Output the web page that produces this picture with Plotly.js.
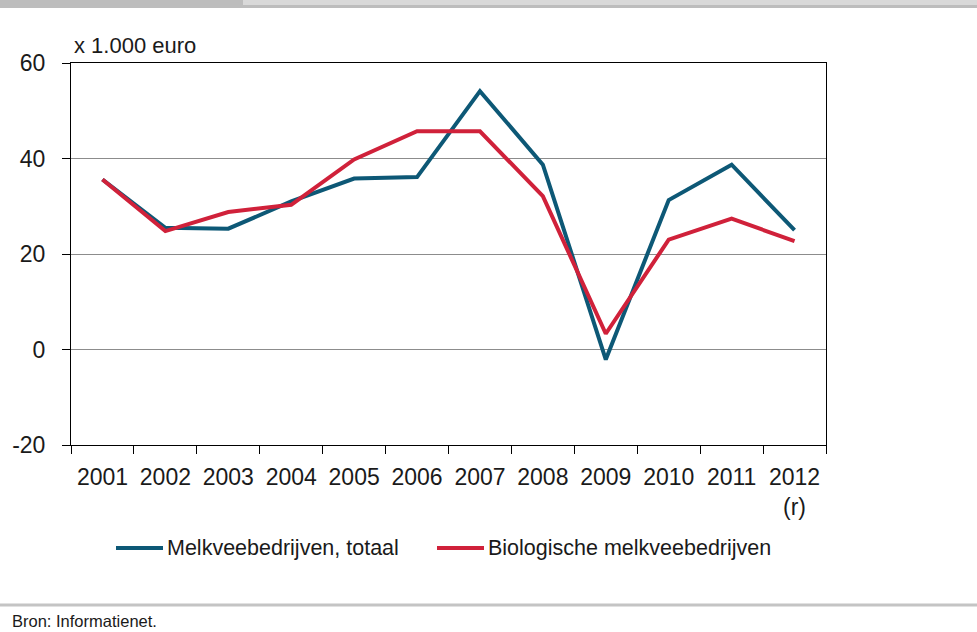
<!DOCTYPE html>
<html>
<head>
<meta charset="utf-8">
<script src="https://cdn.plot.ly/plotly-3.0.1.min.js"></script>
<style>
html,body{margin:0;padding:0;background:#fff;}
#chart{width:977px;height:632px;}
</style>
</head>
<body>
<div id="chart"></div>
<script>
// ---- data ----
var years = ["2001","2002","2003","2004","2005","2006","2007","2008","2009","2010","2011","2012"];
var tickLabels = ["2001","2002","2003","2004","2005","2006","2007","2008","2009","2010","2011","2012<br>(r)"];
var melkveeTotaal = [35.6, 25.5, 25.3, 31.0, 35.8, 36.1, 54.1, 38.7, -2.1, 31.3, 38.7, 25.0];
var biologisch   = [35.6, 24.8, 28.8, 30.3, 39.8, 45.7, 45.7, 32.1, 3.3, 23.0, 27.4, 22.7];
var yTickVals = [-20, 0, 20, 40, 60];
var yTickText = ["-20", "0", "20", "40", "60"];
var seriesNames = ["Melkveebedrijven, totaal", "Biologische melkveebedrijven"];
var yTitle = "x 1.000 euro";
var source = "Bron: Informatienet.";

// ---- layout geometry (pixels) ----
var W = 977, H = 632;
var L = 71, R = 826, T = 63, B = 445;
function px(x){ return (x - L) / (R - L); }
function py(y){ return (B - y) / (B - T); }

var blue = "#0d5876", red = "#d0213a";
var narrow = "Liberation Sans Narrow, Arial Narrow, Liberation Sans, Arial, sans-serif";
var sans = "Liberation Sans, Arial, sans-serif";

var traces = [
  {x: years, y: melkveeTotaal, type: "scatter", mode: "lines", name: seriesNames[0],
   line: {color: blue, width: 4}, hoverinfo: "skip"},
  {x: years, y: biologisch, type: "scatter", mode: "lines", name: seriesNames[1],
   line: {color: red, width: 4}, hoverinfo: "skip"}
];

var shapes = [
  // top decorative bars
  {type: "rect", xref: "paper", yref: "paper", x0: px(0), x1: px(W), y0: py(0), y1: py(8),
   fillcolor: "#bdbdbd", line: {width: 0}, layer: "above"},
  {type: "rect", xref: "paper", yref: "paper", x0: px(243), x1: px(W), y0: py(0), y1: py(5),
   fillcolor: "#d9d9d9", line: {width: 0}, layer: "above"},
  // bottom separator
  {type: "line", xref: "paper", yref: "paper", x0: px(0), x1: px(W), y0: py(605), y1: py(605),
   line: {color: "#c4c4c4", width: 3}},
  // legend samples
  {type: "line", xref: "paper", yref: "paper", x0: px(116), x1: px(163), y0: py(548), y1: py(548),
   line: {color: blue, width: 4}},
  {type: "line", xref: "paper", yref: "paper", x0: px(437), x1: px(484), y0: py(548), y1: py(548),
   line: {color: red, width: 4}}
];

var annotations = [
  {text: yTitle, xref: "paper", yref: "paper", x: px(72), y: py(60), xanchor: "left", yanchor: "bottom",
   showarrow: false, font: {family: sans, size: 22, color: "#1a1a1a"}},
  {text: seriesNames[0], xref: "paper", yref: "paper", x: px(165), y: py(548), xanchor: "left", yanchor: "middle",
   showarrow: false, font: {family: sans, size: 21.5, color: "#1a1a1a"}},
  {text: seriesNames[1], xref: "paper", yref: "paper", x: px(486), y: py(548), xanchor: "left", yanchor: "middle",
   showarrow: false, font: {family: sans, size: 21.5, color: "#1a1a1a"}},
  {text: source, xref: "paper", yref: "paper", x: px(10), y: py(621), xanchor: "left", yanchor: "middle",
   showarrow: false, font: {family: narrow, size: 16.5, color: "#1a1a1a"}}
];

var layout = {
  width: W, height: H,
  margin: {l: L, r: W - R, t: T, b: H - B, pad: 0},
  paper_bgcolor: "#fff", plot_bgcolor: "#fff",
  showlegend: false,
  font: {family: sans, size: 22, color: "#1a1a1a"},
  xaxis: {
    type: "category", range: [-0.5, 11.5],
    tickmode: "array", tickvals: years, ticktext: tickLabels,
    tickson: "boundaries", ticks: "outside", ticklen: 8, tickcolor: "#000", tickwidth: 1,
    ticklabelstandoff: 11,
    showline: true, linecolor: "#000", linewidth: 1, mirror: true,
    showgrid: false, zeroline: false, fixedrange: true,
    tickfont: {family: sans, size: 23, color: "#1a1a1a"}
  },
  yaxis: {
    range: [-20, 60], tickmode: "array", tickvals: yTickVals, ticktext: yTickText,
    ticks: "outside", ticklen: 8, tickcolor: "#000", tickwidth: 1,
    showline: true, linecolor: "#000", linewidth: 1, mirror: true,
    showgrid: true, gridcolor: "#8c8c8c", gridwidth: 1, zeroline: false, fixedrange: true,
    ticklabelstandoff: 12,
    tickfont: {family: sans, size: 23, color: "#1a1a1a"}
  },
  shapes: shapes,
  annotations: annotations
};

Plotly.newPlot("chart", traces, layout, {displayModeBar: false, staticPlot: true});
</script>
</body>
</html>
